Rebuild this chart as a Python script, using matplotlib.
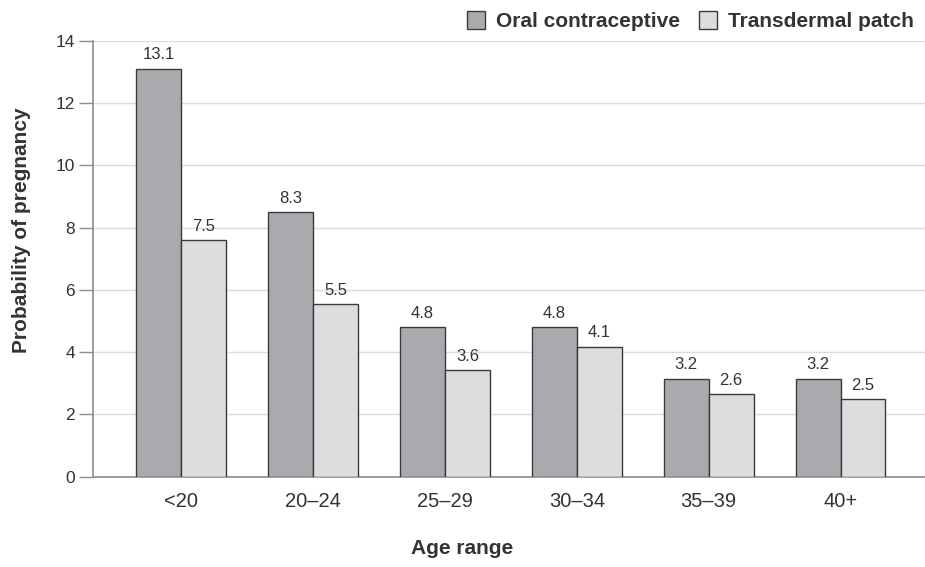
import numpy as np
import matplotlib
matplotlib.use("Agg")
import matplotlib.pyplot as plt

plt.rcParams["font.family"] = ["Liberation Sans", "DejaVu Sans"]

age_ranges = ["<20", "20\u201324", "25\u201329", "30\u201334", "35\u201339", "40+"]
oral = [13.1, 8.5, 4.8, 4.8, 3.15, 3.15]
patch = [7.6, 5.55, 3.42, 4.18, 2.65, 2.49]
oral_labels = ["13.1", "8.3", "4.8", "4.8", "3.2", "3.2"]
patch_labels = ["7.5", "5.5", "3.6", "4.1", "2.6", "2.5"]
y_ticks = [0, 2, 4, 6, 8, 10, 12, 14]

text_col = "#333333"
edge_col = "#3a3a3a"

fig = plt.figure(figsize=(9.25, 5.67), dpi=100)
ax = fig.add_axes([0.1005, 0.1593, 0.8995, 0.7689])

x = np.arange(len(age_ranges))
w = 0.34
b1 = ax.bar(x - w / 2, oral, w, color="#a9aaad", edgecolor=edge_col, linewidth=1.0,
            label="Oral contraceptive", zorder=3)
b2 = ax.bar(x + w / 2, patch, w, color="#dcdddf", edgecolor=edge_col, linewidth=1.0,
            label="Transdermal patch", zorder=3)

# value labels on top of each bar
for bars, labs in [(b1, oral_labels), (b2, patch_labels)]:
    for rect, lab in zip(bars, labs):
        ax.annotate(lab, (rect.get_x() + rect.get_width() / 2, rect.get_height()),
                    xytext=(0, 4.5), textcoords="offset points", ha="center", va="bottom",
                    fontsize=12, color=text_col)

ax.set_xlim(-0.67, 5.64)
ax.set_ylim(0, 14)
ax.set_yticks(y_ticks)
ax.set_xticks(x)
ax.set_xticklabels(age_ranges)
ax.yaxis.grid(True, color="#dcdcdc", linewidth=1.0, zorder=0)
ax.set_axisbelow(True)

for s in ["top", "right"]:
    ax.spines[s].set_visible(False)
for s in ["left", "bottom"]:
    ax.spines[s].set_color("#8c8c8c")
    ax.spines[s].set_linewidth(1.2)

ax.tick_params(axis="y", length=10, width=1.0, color="#8c8c8c", labelsize=12.5,
               labelcolor=text_col, pad=3)
ax.tick_params(axis="x", length=0, labelsize=14.5, labelcolor=text_col, pad=11)

fig.text(462 / 925, 1 - 549 / 567, "Age range", fontsize=15, fontweight="bold",
         color=text_col, ha="center", va="center")
fig.text(22 / 925, 1 - 230 / 567, "Probability of pregnancy", fontsize=15,
         fontweight="bold", color=text_col, ha="center", va="center", rotation=90)

fig.legend(handles=[b1, b2], loc="upper right", bbox_to_anchor=(1.0, 1.0), ncol=2,
           frameon=False, prop={"weight": "bold", "size": 15}, labelcolor=text_col,
           handlelength=0.9, handleheight=0.9, handletextpad=0.5, columnspacing=0.9,
           borderaxespad=0.15)

fig.savefig("out.png", dpi=100)
